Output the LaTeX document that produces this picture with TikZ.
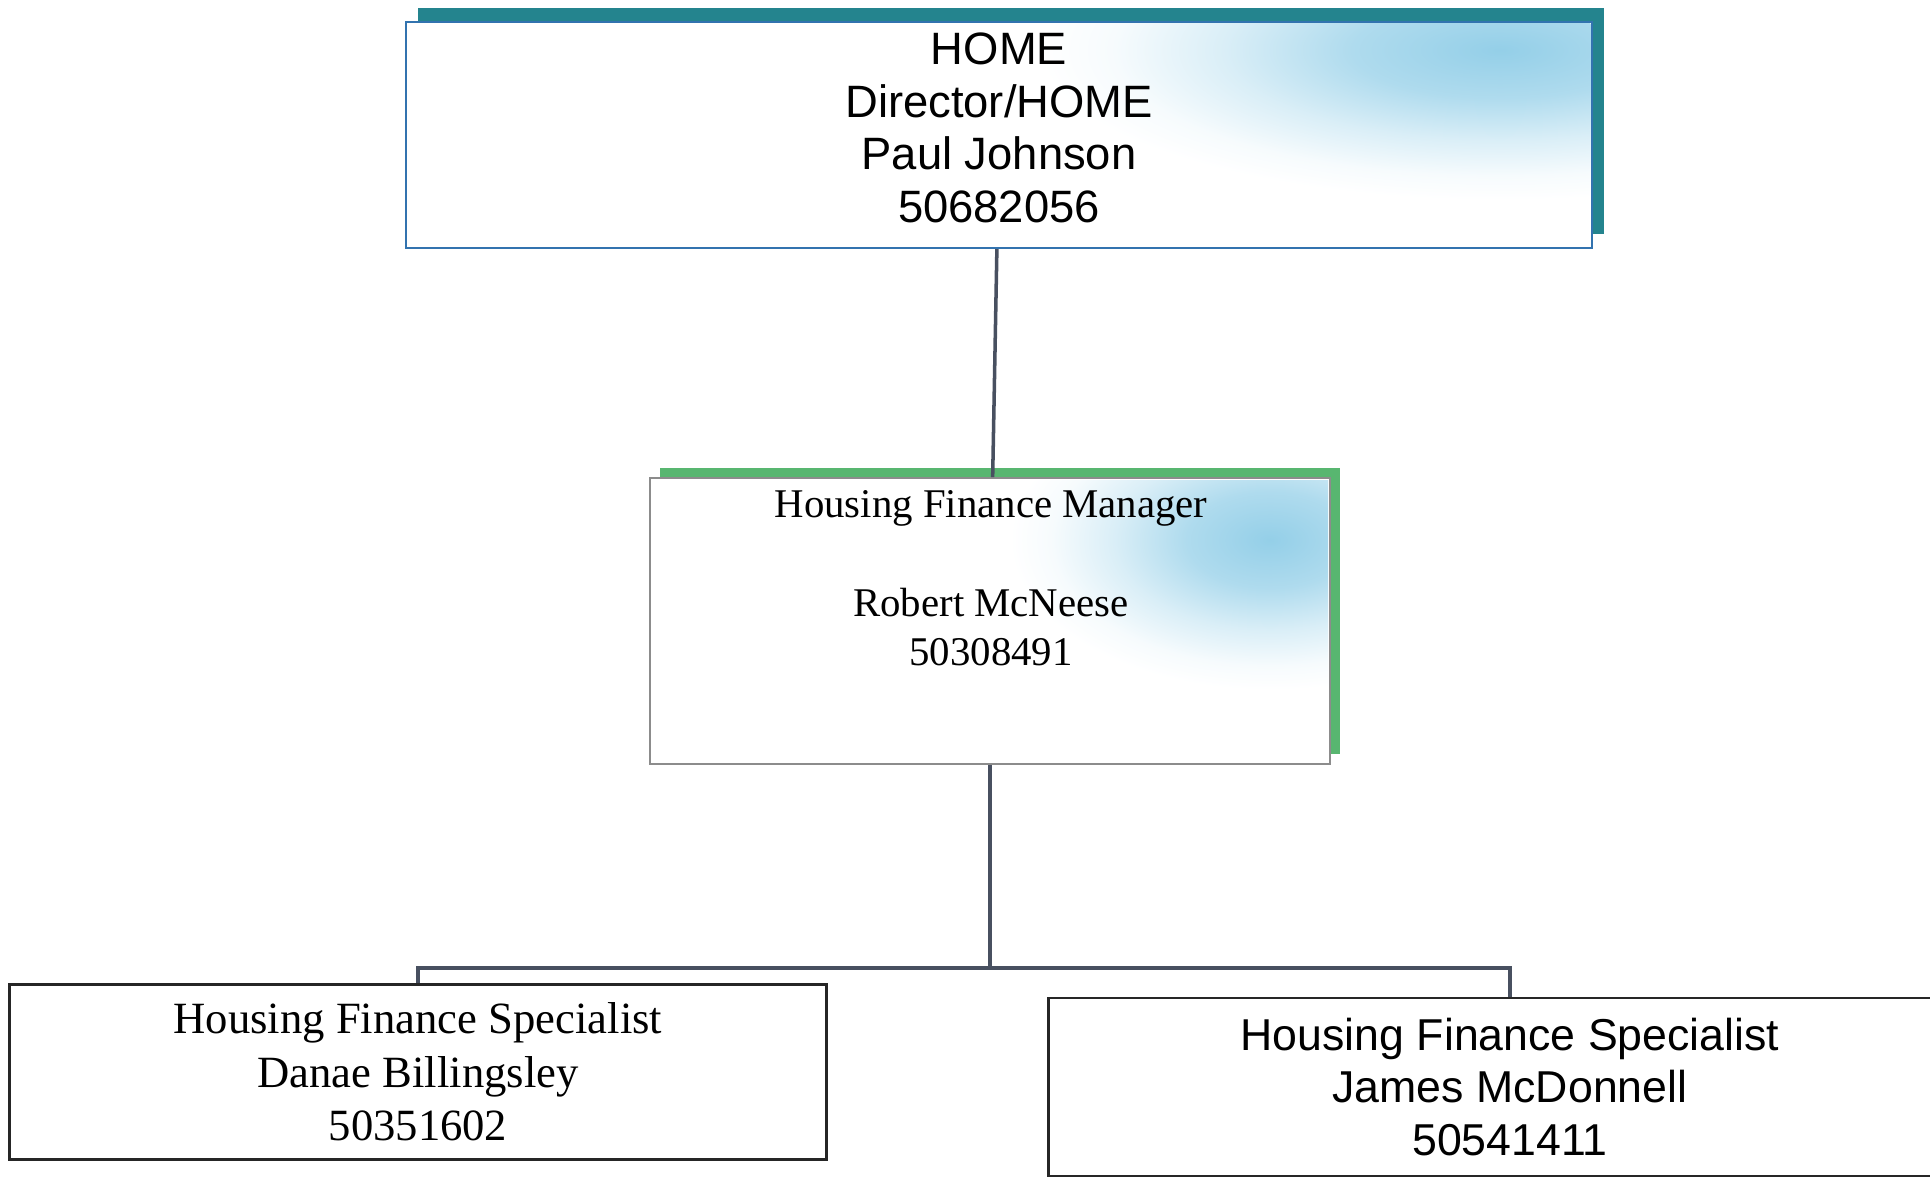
\documentclass[tikz,border=0pt]{standalone}
\usepackage{fontspec}
\setmainfont{Liberation Serif}
\newfontfamily\arialfont{Liberation Sans}
\usetikzlibrary{shadows}

\definecolor{hometeal}{RGB}{36,132,142}
\definecolor{mgrgreen}{RGB}{88,182,112}
\definecolor{skyfill}{RGB}{148,207,232}
\definecolor{linkgray}{RGB}{72,80,96}
\definecolor{edgeblue}{RGB}{50,115,175}

\pgfdeclareradialshading{skycloud}{\pgfpoint{0bp}{0bp}}{%
  color(0bp)=(skyfill); color(8bp)=(skyfill!75!white);
  color(15bp)=(skyfill!35!white); color(21bp)=(skyfill!8!white);
  color(25bp)=(white); color(50bp)=(white)}

\tikzset{
  box/.style={draw, rectangle, fill=white, align=center, inner sep=0pt},
  link/.style={draw=linkgray, line width=1pt},
}

\begin{document}
\begin{tikzpicture}[x=0.01cm, y=-0.01cm]
\useasboundingbox (0,0) rectangle (1930,1183);

% top of the chart
\node (home) [box, draw=edgeblue, line width=0.6pt,
  minimum width=11.86cm, minimum height=2.26cm,
  drop shadow={shadow xshift=3.4pt, shadow yshift=4pt, fill=hometeal, opacity=1}]
  at (999,135) {};
\begin{scope}
  \clip ([shift={(3,-3)}]home.south west) rectangle ([shift={(-3,3)}]home.north east);
  \shade[shading=skycloud] (1500,50) ellipse (4.6cm and 1.5cm);
\end{scope}
\node (hometext) [align=center, inner sep=0pt,
  font=\arialfont\fontsize{12.9}{15}\selectfont]
  at (999,128) {HOME\\Director/HOME\\Paul Johnson\\50682056};

% manager
\node (mgr) [box, draw=black!45, line width=0.5pt,
  minimum width=6.8cm, minimum height=2.86cm,
  drop shadow={shadow xshift=2.8pt, shadow yshift=2.8pt, fill=mgrgreen, opacity=1}]
  at (990,621) {};
\begin{scope}
  \clip ([shift={(3,-3)}]mgr.south west) rectangle ([shift={(-3,3)}]mgr.north east);
  \shade[shading=skycloud] (1270,540) ellipse (2.6cm and 1.5cm);
\end{scope}
\node (mgrtext) [align=center, anchor=north, inner sep=0pt,
  font=\fontsize{11.6}{14}\selectfont]
  at (991,490) {Housing Finance Manager\\[14pt]Robert McNeese\\50308491};

% specialists
\node (spec1) [box, draw=black!85, line width=0.8pt,
  minimum width=8.17cm, minimum height=1.75cm,
  font=\fontsize{12.7}{15.2}\selectfont]
  at (418,1072) {Housing Finance Specialist\\Danae Billingsley\\50351602};
\node (spec2) [box, draw=black!85, line width=0.8pt,
  minimum width=9.22cm, minimum height=1.78cm,
  font=\arialfont\fontsize{12.7}{14.9}\selectfont]
  at (1510,1087) {Housing Finance Specialist\\James McDonnell\\50541411};

\coordinate (bus) at (990,968);

\draw[link] (home) -- (mgr);
\draw[link] (mgr) -- (bus);
\draw[link] (spec1.north) |- (bus) -| (spec2.north);
\end{tikzpicture}
\end{document}
